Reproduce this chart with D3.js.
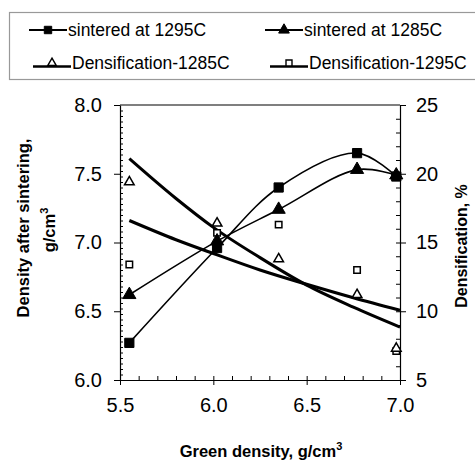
<!DOCTYPE html>
<html>
<head>
<meta charset="utf-8">
<script src="https://cdn.jsdelivr.net/npm/d3@7"></script>
<style>
  body { margin: 0; background: #fff; }
  svg { font-family: "Liberation Sans", Arial, sans-serif; }
</style>
</head>
<body>
<div id="chart"></div>
<script>

// green density (x) for every series
let greenDensity = [5.55, 6.02, 6.35, 6.77, 6.98];

// density after sintering, left axis
let sintered1295 = [6.27, 6.96, 7.40, 7.65, 7.48];
let sintered1285 = [6.62, 7.01, 7.24, 7.53, 7.49];

// densification %, right axis
let densif1285 = [19.4, 16.4, 13.8, 11.2, 7.3];
let densif1295 = [13.4, 15.7, 16.3, 13.0, 7.1];

// trend lines
let trendX = [5.55, 5.8, 6.0, 6.25, 6.5, 6.75, 7.0];
let trend1285 = [21.1, 18.2, 16.1, 13.9, 11.9, 10.3, 8.85];
let trend1295 = [16.6, 15.2, 14.2, 13.0, 11.96, 10.98, 10.07];

let xTicks = [5.5, 6.0, 6.5, 7.0];
let yLeftTicks = [6.0, 6.5, 7.0, 7.5, 8.0];
let yRightTicks = [5, 10, 15, 20, 25];

//////////////////////////////////////////////////////////////////

let width = 475, height = 461;
let plotL = 120, plotR = 400, plotT = 105, plotB = 380;

let svg = d3.select("#chart")
            .append("svg")
            .attr("width", width)
            .attr("height", height);

let x = d3.scaleLinear().domain([5.5, 7.0]).range([plotL, plotR]);
let yL = d3.scaleLinear().domain([6, 8]).range([plotB, plotT]);
let yR = d3.scaleLinear().domain([5, 25]).range([plotB, plotT]);

// axes
function styleAxis(g, size){
    g.select(".domain").attr("stroke", "#000").attr("stroke-width", 1.2);
    g.selectAll(".tick line").attr("stroke", "#000").attr("stroke-width", 1);
    g.selectAll(".tick text").attr("font-size", size).attr("fill", "#000")
     .attr("font-family", "Liberation Sans, Arial, sans-serif");
}

let gx = svg.append("g").attr("transform", `translate(0,${plotB})`)
    .call(d3.axisBottom(x).tickValues(xTicks).tickFormat(d3.format(".1f")).tickSize(5).tickPadding(13).tickSizeOuter(0));
styleAxis(gx, 20);

svg.append("g").attr("transform", `translate(0,${plotB})`)
    .call(d3.axisTop(x).tickValues(d3.range(5.6, 7.0, 0.1)).tickSize(4).tickFormat("").tickSizeOuter(0))
    .call(g => { g.select(".domain").remove(); g.selectAll("line").attr("stroke", "#000"); });

let gl = svg.append("g").attr("transform", `translate(${plotL},0)`)
    .call(d3.axisLeft(yL).tickValues(yLeftTicks).tickFormat(d3.format(".1f")).tickSize(6).tickPadding(12).tickSizeOuter(0));
styleAxis(gl, 20);

svg.append("g").attr("transform", `translate(${plotL},0)`)
    .call(d3.axisRight(yL).tickValues(d3.range(6.04, 7.99, 0.04)).tickSize(3).tickFormat("").tickSizeOuter(0))
    .call(g => { g.select(".domain").remove(); g.selectAll("line").attr("stroke", "#000"); });

let gr = svg.append("g").attr("transform", `translate(${plotR},0)`)
    .call(d3.axisRight(yR).tickValues(yRightTicks).tickSize(6).tickPadding(10).tickSizeOuter(0));
styleAxis(gr, 20);

svg.append("g").attr("transform", `translate(${plotR},0)`)
    .call(d3.axisLeft(yR).tickValues(d3.range(6, 25, 1)).tickSize(4).tickFormat("").tickSizeOuter(0))
    .call(g => { g.select(".domain").remove(); g.selectAll("line").attr("stroke", "#000"); });

// top border
svg.append("line")
   .attr("x1", plotL).attr("x2", plotR).attr("y1", plotT).attr("y2", plotT)
   .attr("stroke", "#000").attr("stroke-width", 1.2);

// trend lines (thick)
let trendLine = (yScale, vals) => d3.line()
    .x((d, i) => x(trendX[i]))
    .y(d => yScale(d))
    .curve(d3.curveMonotoneX)(vals);

svg.append("path").attr("d", trendLine(yR, trend1285))
   .attr("fill", "none").attr("stroke", "#000").attr("stroke-width", 3);
svg.append("path").attr("d", trendLine(yR, trend1295))
   .attr("fill", "none").attr("stroke", "#000").attr("stroke-width", 3);

// smoothed lines for sintered density
let smooth = vals => d3.line()
    .x((d, i) => x(greenDensity[i]))
    .y(d => yL(d))
    .curve(d3.curveCatmullRom.alpha(0.5))(vals);

svg.append("path").attr("d", smooth(sintered1295))
   .attr("fill", "none").attr("stroke", "#000").attr("stroke-width", 1.6);
svg.append("path").attr("d", smooth(sintered1285))
   .attr("fill", "none").attr("stroke", "#000").attr("stroke-width", 1.6);

// markers
let sq = d3.symbol().type(d3.symbolSquare);
let tri = d3.symbol().type(d3.symbolTriangle);

function markers(vals, yScale, sym, size, filled){
    svg.append("g").selectAll("path")
       .data(vals)
       .join("path")
       .attr("transform", (d, i) => `translate(${x(greenDensity[i])},${yScale(d)})`)
       .attr("d", sym.size(size)())
       .attr("fill", filled ? "#000" : "#fff")
       .attr("stroke", "#000")
       .attr("stroke-width", filled ? 1 : 1.5);
}

markers(densif1295, yR, sq, 42, false);
markers(densif1285, yR, tri, 40, false);
markers(sintered1285, yL, tri, 75, true);
markers(sintered1295, yL, sq, 85, true);

// axis titles
svg.append("text")
   .attr("transform", "translate(29,228) rotate(-90)")
   .attr("text-anchor", "middle")
   .attr("font-size", 16.5).attr("font-weight", "bold")
   .text("Density after sintering,");

let t2 = svg.append("text")
   .attr("transform", "translate(55,230) rotate(-90)")
   .attr("text-anchor", "middle")
   .attr("font-size", 16.5).attr("font-weight", "bold");
t2.append("tspan").text("g/cm");
t2.append("tspan").attr("dy", -7).attr("font-size", 11).text("3");

svg.append("text")
   .attr("transform", "translate(467,246) rotate(-90)")
   .attr("text-anchor", "middle")
   .attr("font-size", 16).attr("font-weight", "bold")
   .text("Densification, %");

let tx = svg.append("text")
   .attr("x", 261).attr("y", 457)
   .attr("text-anchor", "middle")
   .attr("font-size", 16.5).attr("font-weight", "bold");
tx.append("tspan").text("Green density, g/cm");
tx.append("tspan").attr("dy", -7).attr("font-size", 11).text("3");

// legend
svg.append("rect")
   .attr("x", 9.5).attr("y", 12.5).attr("width", 480).attr("height", 67)
   .attr("fill", "none").attr("stroke", "#999").attr("stroke-width", 1.2);

let legendItems = [
    {label: "sintered at 1295C", lx: 29, ly: 30, sym: sq, size: 55, filled: true, ty: 30},
    {label: "sintered at 1285C", lx: 265, ly: 30, sym: tri, size: 50, filled: true, ty: 30},
    {label: "Densification-1285C", lx: 33, ly: 66.5, sym: tri, size: 30, filled: false, ty: 62.5},
    {label: "Densification-1295C", lx: 270, ly: 66.5, sym: sq, size: 36, filled: false, ty: 62.5}
];

let leg = svg.append("g").selectAll("g").data(legendItems).join("g");

leg.append("line")
   .attr("x1", d => d.lx).attr("x2", d => d.lx + 38)
   .attr("y1", d => d.ly).attr("y2", d => d.ly)
   .attr("stroke", "#000").attr("stroke-width", d => d.filled ? 2 : 2.5);

leg.append("path")
   .attr("transform", d => `translate(${d.lx + 19},${d.filled ? d.ly : d.ly - 3.5})`)
   .attr("d", d => d.sym.size(d.size)())
   .attr("fill", d => d.filled ? "#000" : "#fff")
   .attr("stroke", "#000")
   .attr("stroke-width", d => d.filled ? 1 : 1.4);

leg.append("text")
   .attr("x", d => d.lx + 39)
   .attr("y", d => d.ty)
   .attr("dy", "0.35em")
   .attr("font-size", 17.5)
   .text(d => d.label);

</script>
</body>
</html>
